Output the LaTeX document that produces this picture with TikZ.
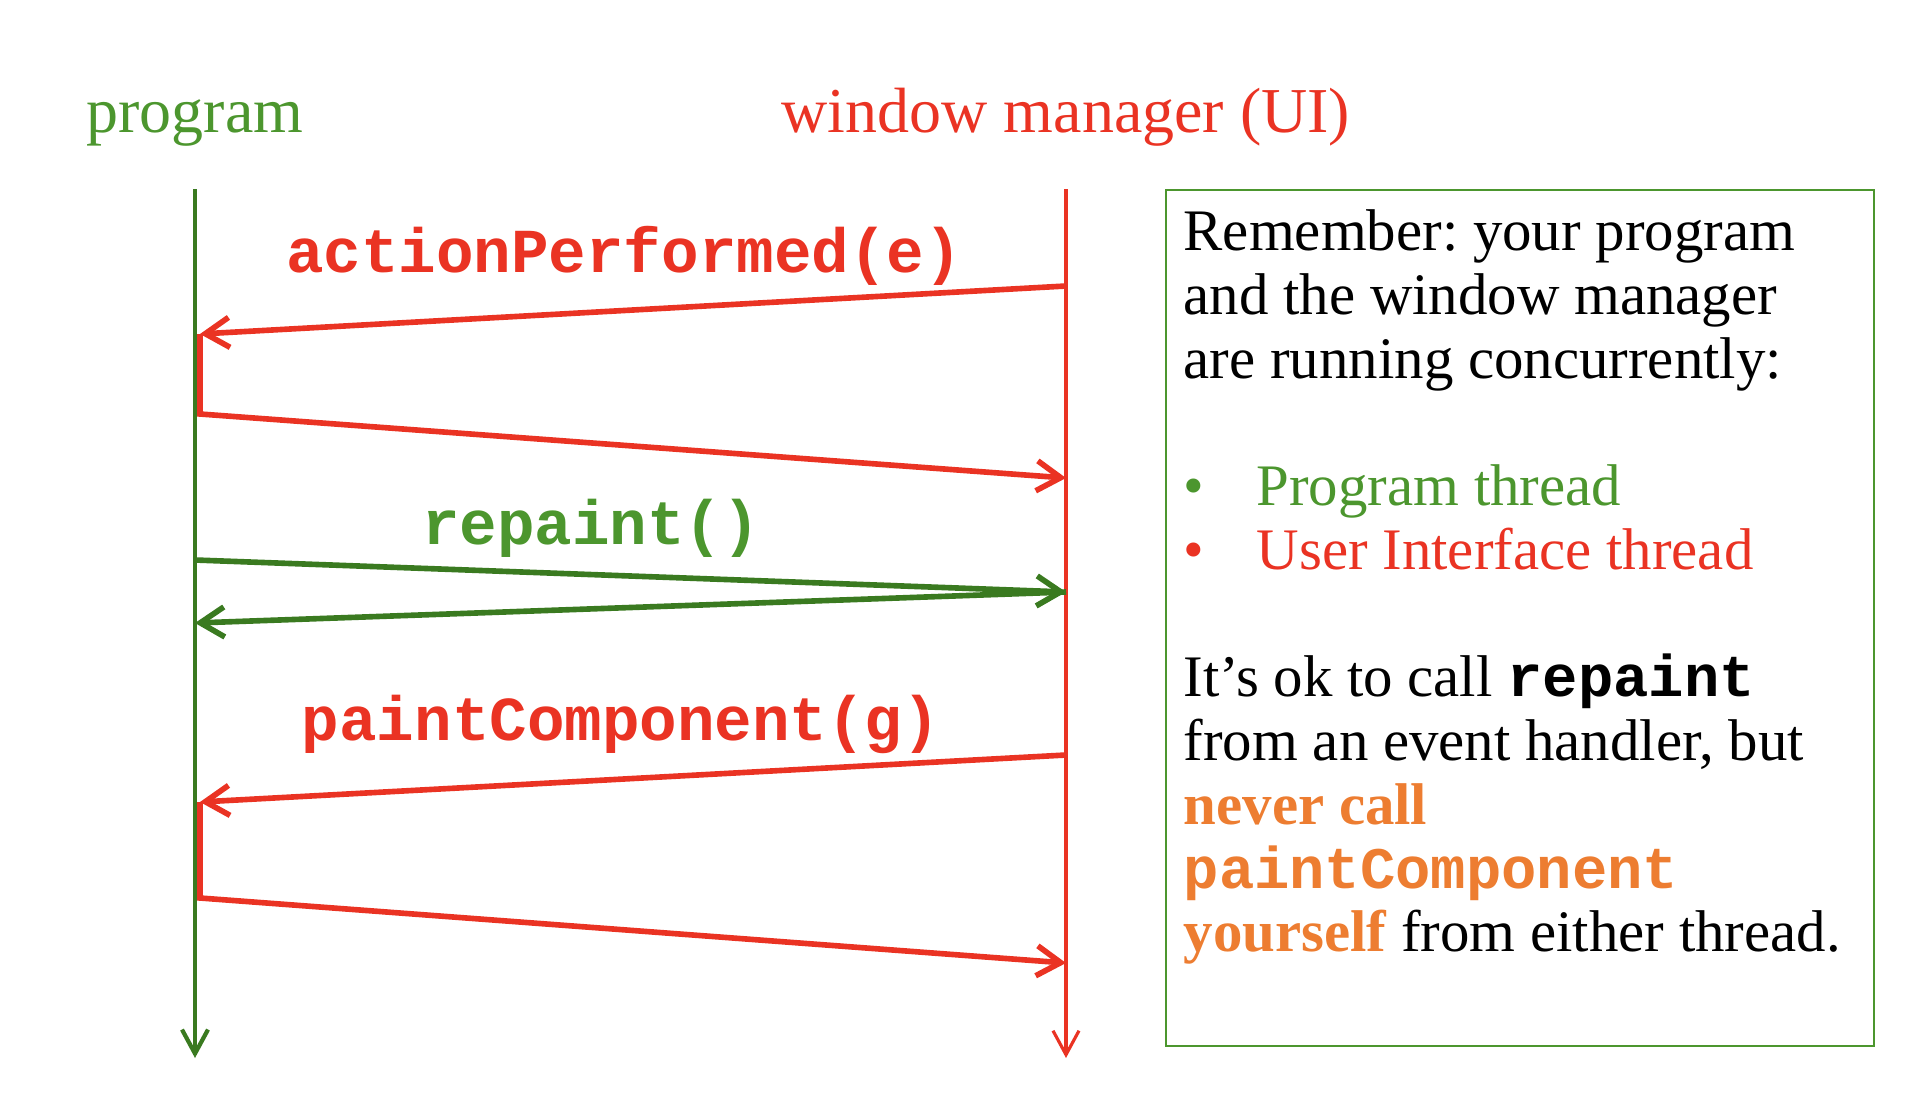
\documentclass[tikz,border=0pt]{standalone}
\usepackage{fontspec}
\setmainfont{Liberation Serif}
\setmonofont{Liberation Mono}
\usetikzlibrary{arrows.meta}
\frenchspacing
\definecolor{uired}{RGB}{234,51,35}
\definecolor{proggreen}{RGB}{76,150,46}
\definecolor{linegreen}{RGB}{58,122,32}
\definecolor{warnorange}{RGB}{237,125,49}
\tikzset{
        msg/.style={line width=1.6pt, -{Straight Barb[length=2.4mm,width=3mm]}},
        life/.style={-{Straight Barb[length=2.4mm,width=2.6mm]}},
        title/.style={anchor=base, inner sep=0pt, font=\fontsize{18.2}{22}\selectfont},
        call/.style={anchor=base, inner sep=0pt, font=\fontsize{17.8}{20}\selectfont\ttfamily\bfseries}
}
\begin{document}
\begin{tikzpicture}
        \useasboundingbox (0,0) rectangle (19.16,-11.14);
        \node[title, text=proggreen] (t0) at (1.95,-1.32) {program};
        \node[title, text=uired] (t1) at (10.66,-1.32) {window manager (UI)};
        \coordinate (p0) at (1.95,-1.89);
        \coordinate (p9) at (1.95,-10.58);
        \coordinate (w0) at (10.66,-1.89);
        \coordinate (w9) at (10.66,-10.58);
        \draw[life, linegreen, line width=1.2pt] (p0) -- (p9);
        \draw[life, uired, line width=0.9pt] (w0) -- (w9);
        \coordinate (w1) at (10.66,-2.86);
        \coordinate (p1) at (2.00,-3.34);
        \coordinate (p2) at (2.00,-4.14);
        \coordinate (w2) at (10.66,-4.78);
        \coordinate (p3) at (1.95,-5.60);
        \coordinate (w3) at (10.66,-5.92);
        \coordinate (p4) at (1.95,-6.23);
        \coordinate (w5) at (10.66,-7.55);
        \coordinate (p5) at (2.00,-8.02);
        \coordinate (p6) at (2.00,-8.98);
        \coordinate (w6) at (10.66,-9.63);
        \node[call, text=uired] (c0) at (6.24,-2.72) {actionPerformed(e)};
        \node[call, text=proggreen] (c1) at (5.91,-5.44) {repaint()};
        \node[call, text=uired] (c2) at (6.21,-7.40) {paintComponent(g)};
        \draw[msg, uired] (w1) -- (p1);
        \draw[msg, uired] (p1) -- (p2) -- (w2);
        \draw[msg, linegreen] (p3) -- (w3);
        \draw[msg, linegreen] (w3) -- (p4);
        \draw[msg, uired] (w5) -- (p5);
        \draw[msg, uired] (p5) -- (p6) -- (w6);
        \node[draw=proggreen, line width=0.6pt, minimum width=7.08cm, minimum height=8.56cm, anchor=north west] (b0) at (11.65,-1.89) {};
        \node[anchor=north west, inner sep=0pt, align=left, font=\fontsize{16.75}{18.14}\selectfont] (n0) at (11.83,-2.09) {Remember: your program\\
and the window manager\\
are running concurrently:\\[18.14pt]
\textcolor{proggreen}{\makebox[0.73cm][l]{\textbullet}Program thread}\\
\textcolor{uired}{\makebox[0.73cm][l]{\textbullet}User Interface thread}\\[18.14pt]
It’s ok to call {\ttfamily\bfseries repaint}\\
from an event handler, but\\
\textcolor{warnorange}{\bfseries never call}\\
\textcolor{warnorange}{\ttfamily\bfseries paintComponent}\\
\textcolor{warnorange}{\bfseries yourself} from either thread.};
\end{tikzpicture}
\end{document}
